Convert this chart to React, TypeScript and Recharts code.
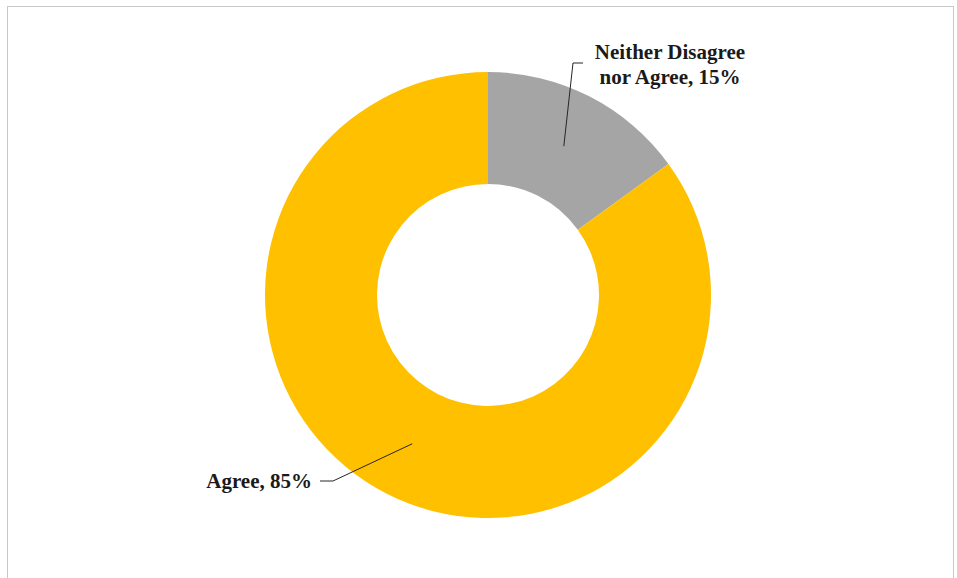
import { PieChart, Pie, Cell } from "recharts";

const CATEGORIES = ["Neither Disagree nor Agree", "Agree"];
const SHARES = [15, 85];
const COLORS = ["#a5a5a5", "#ffc000"];
// words before the line break in each label (0 = single line)
const LABEL_BREAKS = [2, 0];

const data = CATEGORIES.map((name, i) => ({ name, value: SHARES[i] }));

const RADIAN = Math.PI / 180;
const FONT = '"Liberation Serif", "Times New Roman", serif';

// leader line elbow/end and text anchor, relative to the pie centre
const LABEL_LAYOUT = [
  { elbow: [85, -232], end: [95, -232], text: [182, -236], anchor: "middle" },
  { elbow: [-155, 186], end: [-168, 186], text: [-176, 193], anchor: "end" },
];

function renderLabel(props: any) {
  const { cx, cy, midAngle, innerRadius, outerRadius, index, name, value } = props;
  const layout = LABEL_LAYOUT[index];
  if (!layout) return null;
  const r = (innerRadius + outerRadius) / 2;
  const sx = cx + r * Math.cos(-midAngle * RADIAN);
  const sy = cy + r * Math.sin(-midAngle * RADIAN);
  const ex = cx + layout.elbow[0];
  const ey = cy + layout.elbow[1];
  const tx = cx + layout.end[0];
  const ty = cy + layout.end[1];

  const words = `${name}, ${value}%`.split(" ");
  const brk = LABEL_BREAKS[index];
  const lines = brk ? [words.slice(0, brk).join(" "), words.slice(brk).join(" ")] : [words.join(" ")];

  return (
    <g key={`label-${index}`}>
      <polyline
        points={`${sx},${sy} ${ex},${ey} ${tx},${ty}`}
        fill="none"
        stroke="#262626"
        strokeWidth={1}
      />
      <text
        x={cx + layout.text[0]}
        y={cy + layout.text[1]}
        textAnchor={layout.anchor as any}
        style={{ fontFamily: FONT, fontSize: 21, fontWeight: 700, fill: "#1a1a1a" }}
      >
        {lines.map((line, i) => (
          <tspan key={i} x={cx + layout.text[0]} dy={i === 0 ? 0 : 25}>
            {line}
          </tspan>
        ))}
      </text>
    </g>
  );
}

export default function App() {
  return (
    <div style={{ position: "absolute", left: 0, top: 0, width: 957, height: 578, background: "#fff", overflow: "hidden" }}>
      <div
        style={{
          position: "absolute",
          left: 7,
          top: 6,
          width: 947,
          height: 580,
          border: "1px solid #c8c8c8",
          boxSizing: "border-box",
        }}
      />
      <div style={{ position: "absolute", left: 0, top: 0 }}>
        <PieChart width={957} height={578} margin={{ top: 0, right: 0, bottom: 0, left: 0 }}>
          <Pie
            data={data}
            dataKey="value"
            nameKey="name"
            cx={488}
            cy={295}
            innerRadius={111}
            outerRadius={223}
            startAngle={90}
            endAngle={-270}
            stroke="none"
            labelLine={false}
            label={renderLabel}
            isAnimationActive={false}
          >
            {data.map((d, i) => (
              <Cell key={d.name} fill={COLORS[i]} stroke="none" />
            ))}
          </Pie>
        </PieChart>
      </div>
    </div>
  );
}
